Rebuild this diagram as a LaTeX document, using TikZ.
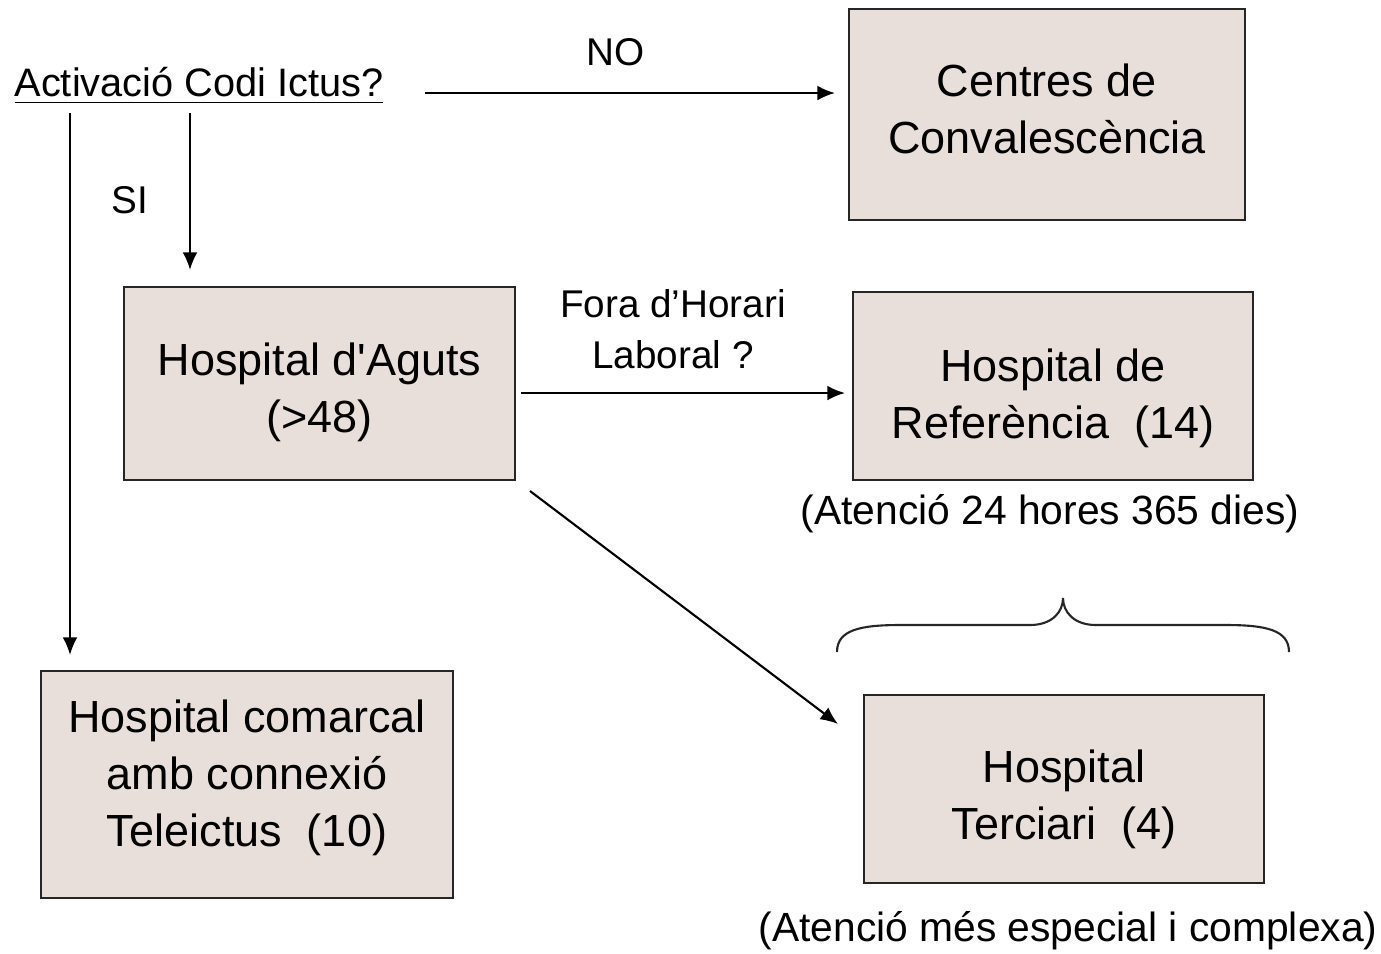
\documentclass[tikz,border=0pt]{standalone}
\usepackage{fontspec}
\setmainfont{Liberation Sans}[Ligatures=TeXOff]
\usetikzlibrary{arrows.meta}
\definecolor{boxfill}{HTML}{E8DEDA}
\tikzset{
  hbox/.style={draw=black!85, line width=0.7pt, fill=boxfill, inner sep=0pt},
  btext/.style={inner sep=0pt, align=center, font=\fontsize{12.8}{16.2}\selectfont},
  lbl/.style={inner sep=0pt, align=center, font=\fontsize{11}{14.5}\selectfont},
  note/.style={inner sep=0pt, align=center, font=\fontsize{11.6}{15}\selectfont},
  arr/.style={line width=0.6pt, -{Latex[length=5pt,width=4.2pt]}}
}
\begin{document}
\begin{tikzpicture}[x=0.01cm,y=-0.01cm]
\useasboundingbox (0,0) rectangle (1381,953);
% boxes
\node[hbox, minimum width=3.96cm, minimum height=2.11cm] (cc) at (1047,114.5) {};
\node[hbox, minimum width=3.91cm, minimum height=1.93cm] (ha) at (319.5,383.5) {};
\node[hbox, minimum width=4.00cm, minimum height=1.88cm] (hr) at (1053,386) {};
\node[hbox, minimum width=4.12cm, minimum height=2.27cm] (hc) at (247,784.5) {};
\node[hbox, minimum width=4.00cm, minimum height=1.88cm] (ht) at (1064,789) {};
% box texts
\node[btext] (ccT) at (1047,108.5) {Centres de\\Convalescència};
\node[btext] (haT) at (319.5,392) {Hospital d'Aguts\\(>48)};
\node[btext] (hrT) at (1053,398) {Hospital de\\Referència\ \ (14)};
\node[btext] (hcT) at (247,777.5) {Hospital comarcal\\amb connexió\\Teleictus\ \ (10)};
\node[btext] (htT) at (1064,799) {Hospital\\Terciari\ \ (4)};
% question
\node[lbl, font=\fontsize{11.3}{14}\selectfont] (q) at (199,86) {\underline{Activació Codi Ictus?}};
% labels
\node[lbl] (no) at (616,52) {NO};
\node[lbl] (si) at (130,200) {SI};
\node[lbl] (fh) at (673,329) {Fora d’Horari\\Laboral ?};
\node[note] (n1) at (1050,514) {(Atenció 24 hores 365 dies)};
\node[note] (n2) at (1068,931) {(Atenció més especial i complexa)};
% connector coordinates
\coordinate (noS) at (425,93);
\coordinate (noE) at (835,93);
\coordinate (lS) at (70,113);
\coordinate (lE) at (70,655);
\coordinate (siS) at (190,113);
\coordinate (siE) at (190,270);
\coordinate (fS) at (521,393);
\coordinate (fE) at (845,393);
\coordinate (dS) at (530,491);
\coordinate (dE) at (838,724);
\draw[arr] (noS) -- (noE);
\draw[arr] (lS) -- (lE);
\draw[arr] (siS) -- (siE);
\draw[arr] (fS) -- (fE);
\draw[arr] (dS) -- (dE);
% brace
\draw[line width=0.6pt, black!85] (837,652) .. controls (837,630) and (860,625) .. (900,625) -- (1030,625)
  .. controls (1052,625) and (1063,612) .. (1063,598)
  .. controls (1063,612) and (1074,625) .. (1096,625) -- (1226,625)
  .. controls (1266,625) and (1289,630) .. (1289,652);
\end{tikzpicture}
\end{document}
